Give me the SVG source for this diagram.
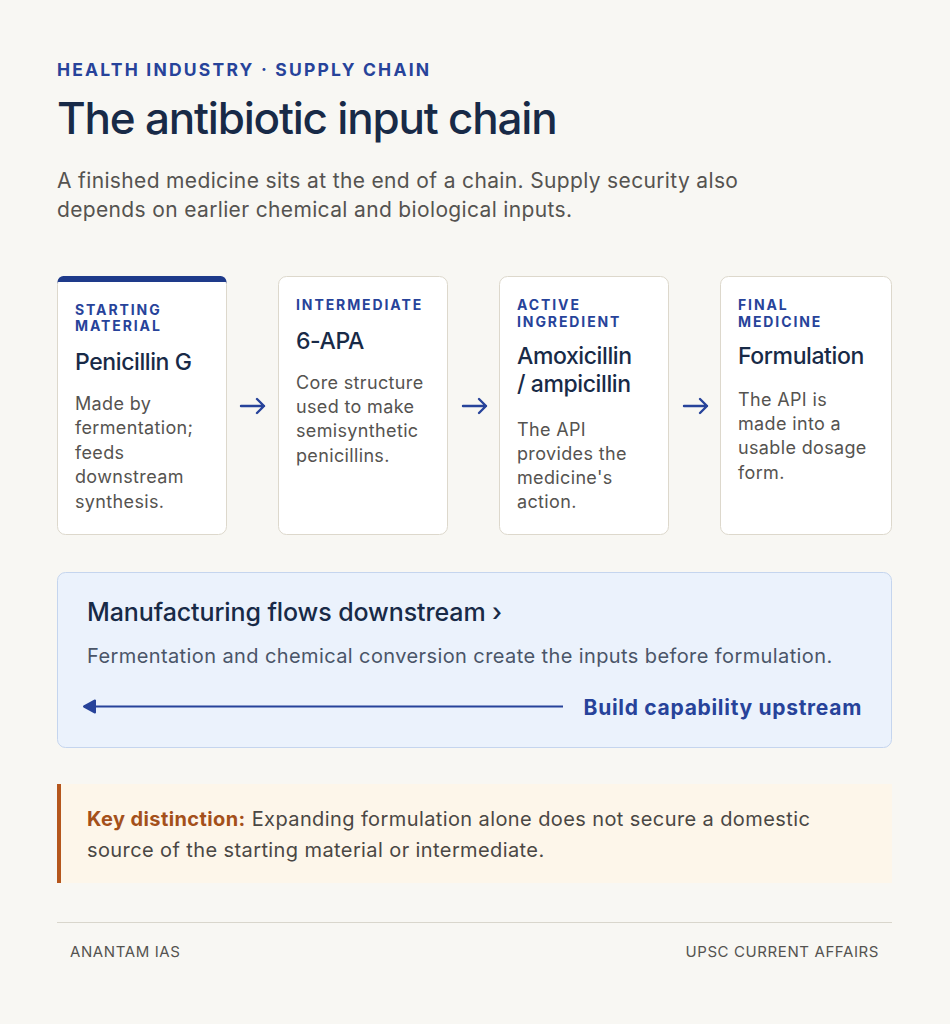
<svg xmlns="http://www.w3.org/2000/svg" width="950" height="1024" viewBox="0 0 950 1024">
<style>
.eyebrow{font-family:Inter,"Liberation Sans",sans-serif;font-weight:700;fill:#27439a}
.title{font-family:Inter,"Liberation Sans",sans-serif;font-weight:500;fill:#182a47}
.body{font-family:Inter,"Liberation Sans",sans-serif;font-weight:400;fill:#555350}
.card{fill:#ffffff;stroke:#ddd8cc;stroke-width:1}
.ctag{font-family:Inter,"Liberation Sans",sans-serif;font-weight:700;font-size:14px;letter-spacing:1.9px;fill:#27439a}
.ctitle{font-family:Inter,"Liberation Sans",sans-serif;font-weight:500;font-size:23px;letter-spacing:-0.4px;fill:#182a47}
.cbody{font-family:Inter,"Liberation Sans",sans-serif;font-weight:400;font-size:18px;letter-spacing:0.35px;fill:#555350}
.step{fill:none;stroke:#27439a;stroke-width:2.4;stroke-linecap:round;stroke-linejoin:round}
.foot{font-family:Inter,"Liberation Sans",sans-serif;font-weight:400;font-size:15px;letter-spacing:0.6px;fill:#555350}
</style>
<defs>
<marker id="ah" markerWidth="16" markerHeight="16" refX="12" refY="8" orient="auto" markerUnits="userSpaceOnUse">
<path d="M1,2 L12,8 L1,14 Z" fill="#27439a" stroke="#27439a" stroke-linejoin="round" stroke-width="2"/>
</marker>
</defs>
<rect width="950" height="1024" fill="#f8f7f3"/>
<g id="header">
<text class="eyebrow" x="57" y="76" font-size="17.5" letter-spacing="2.2">HEALTH INDUSTRY · SUPPLY CHAIN</text>
<text class="title" x="57" y="134" font-size="44" letter-spacing="-1.2">The antibiotic input chain</text>
<text class="body" x="57" y="188" font-size="21" letter-spacing="0.35">A finished medicine sits at the end of a chain. Supply security also</text>
<text class="body" x="57" y="217" font-size="21" letter-spacing="0.35">depends on earlier chemical and biological inputs.</text>
</g>
<g id="card-starting">
<rect class="card" x="57.5" y="276.5" width="169" height="258" rx="8"/>
<path d="M57.5,284 a7.5,7.5 0 0 1 7.5,-7.5 h154 a7.5,7.5 0 0 1 7.5,7.5 v-2 h-169 z" fill="#27439a"/>
<path d="M57.5,282 a6,6 0 0 1 6,-6 h157 a6,6 0 0 1 6,6 z" fill="#1e3a8a"/>
<text class="ctag" x="75" y="315">STARTING</text>
<text class="ctag" x="75" y="331">MATERIAL</text>
<text class="ctitle" x="75" y="370">Penicillin G</text>
<text class="cbody" x="75" y="410">Made by</text>
<text class="cbody" x="75" y="434">fermentation;</text>
<text class="cbody" x="75" y="459">feeds</text>
<text class="cbody" x="75" y="483">downstream</text>
<text class="cbody" x="75" y="508">synthesis.</text>
</g>
<g id="card-intermediate">
<rect class="card" x="278.5" y="276.5" width="169" height="258" rx="8"/>
<text class="ctag" x="296" y="310">INTERMEDIATE</text>
<text class="ctitle" x="296" y="349">6-APA</text>
<text class="cbody" x="296" y="389">Core structure</text>
<text class="cbody" x="296" y="413">used to make</text>
<text class="cbody" x="296" y="437">semisynthetic</text>
<text class="cbody" x="296" y="462">penicillins.</text>
</g>
<g id="card-api">
<rect class="card" x="499.5" y="276.5" width="169" height="258" rx="8"/>
<text class="ctag" x="517" y="310">ACTIVE</text>
<text class="ctag" x="517" y="327">INGREDIENT</text>
<text class="ctitle" x="517" y="364">Amoxicillin</text>
<text class="ctitle" x="517" y="392">/ ampicillin</text>
<text class="cbody" x="517" y="436">The API</text>
<text class="cbody" x="517" y="460">provides the</text>
<text class="cbody" x="517" y="484">medicine's</text>
<text class="cbody" x="517" y="508">action.</text>
</g>
<g id="card-final">
<rect class="card" x="720.5" y="276.5" width="171" height="258" rx="8"/>
<text class="ctag" x="738" y="310">FINAL</text>
<text class="ctag" x="738" y="327">MEDICINE</text>
<text class="ctitle" x="738" y="364">Formulation</text>
<text class="cbody" x="738" y="406">The API is</text>
<text class="cbody" x="738" y="430">made into a</text>
<text class="cbody" x="738" y="454">usable dosage</text>
<text class="cbody" x="738" y="479">form.</text>
</g>
<g id="flow-panel">
<rect x="57.5" y="572.5" width="834" height="175" rx="8" fill="#ebf2fc" stroke="#c5d5ee"/>
<text class="title" x="87" y="621" font-size="25" letter-spacing="-0.1">Manufacturing flows downstream ›</text>
<text x="87" y="663" font-family="Inter,'Liberation Sans',sans-serif" font-size="20" letter-spacing="0.4" fill="#4a5568">Fermentation and chemical conversion create the inputs before formulation.</text>
<text x="862" y="715" text-anchor="end" font-family="Inter,'Liberation Sans',sans-serif" font-weight="700" font-size="21" letter-spacing="0.7" fill="#27439a">Build capability upstream</text>
</g>
<g id="key-distinction">
<rect x="57" y="784" width="835" height="99" fill="#fdf6ea"/>
<rect x="57" y="784" width="4" height="99" fill="#b5561c"/>
<text x="87" y="826" font-family="Inter,'Liberation Sans',sans-serif" font-size="20" letter-spacing="0.4" fill="#4a4744"><tspan font-weight="700" fill="#a4501a">Key distinction:</tspan> Expanding formulation alone does not secure a domestic</text>
<text x="87" y="857" font-family="Inter,'Liberation Sans',sans-serif" font-size="20" letter-spacing="0.4" fill="#4a4744">source of the starting material or intermediate.</text>
</g>
<g id="footer">
<line x1="57" y1="922.5" x2="892" y2="922.5" stroke="#d9d6cc"/>
<text class="foot" x="70" y="957">ANANTAM IAS</text>
<text class="foot" x="879" y="957" text-anchor="end">UPSC CURRENT AFFAIRS</text>
</g>
<g id="connectors">
<path class="step" d="M241,406 H264 M257,399 L264,406 L257,413"/>
<path class="step" d="M463,406 H486 M479,399 L486,406 L479,413"/>
<path class="step" d="M684,406 H707 M700,399 L707,406 L700,413"/>
<line x1="563" y1="706.5" x2="84" y2="706.5" stroke="#27439a" stroke-width="2" marker-end="url(#ah)"/>
</g>
</svg>
